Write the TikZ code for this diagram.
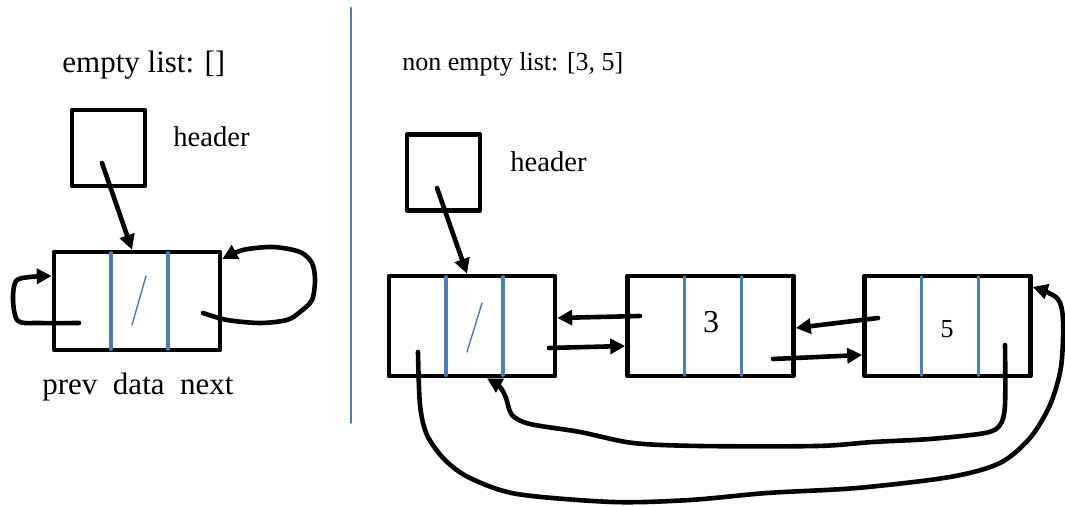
\documentclass[tikz,border=0pt]{standalone}
\usepackage{fontspec}
\setmainfont{Liberation Serif}
\usetikzlibrary{arrows.meta}
\definecolor{divblue}{HTML}{4A7EBB}

\begin{document}
\begin{tikzpicture}[x=0.5pt,y=-0.5pt, line join=round, line cap=round, >={Triangle[length=7.5pt,width=7.5pt]},
	cell/.style={draw,line width=2.3pt,minimum width=83pt,minimum height=50pt,inner sep=0pt},
	hbox/.style={draw,line width=2.3pt,minimum width=36.5pt,minimum height=38pt,inner sep=0pt},
	link/.style={->,line width=2.3pt},
	lbl/.style={anchor=base west,inner sep=0pt},
	bar/.style={divblue,line width=1.6pt},
	slash/.style={divblue,line width=0.7pt}]
	\useasboundingbox (0,0) rectangle (1065,506);
	
	\draw[divblue,line width=1pt] (351,8)--(351,423);
	
	% empty list
	\node[lbl,font=\fontsize{15.5}{18}\selectfont] (t0) at (62,73) {empty list: []};
	\node[hbox] (h0) at (108.5,148) {};
	\node[lbl,font=\fontsize{14.3}{16}\selectfont] (l0) at (173,147) {header};
	\node[cell,minimum height=49pt] (e0) at (137,301) {};
	\node[lbl,font=\fontsize{15.5}{18}\selectfont] (f0) at (42,395) {prev\enspace data\enspace next};
	
	% non empty list
	\node[lbl,font=\fontsize{13}{15}\selectfont] (t1) at (402,71) {non empty list: [3, 5]};
	\node[hbox] (h1) at (443.5,172.5) {};
	\node[lbl,font=\fontsize{14.3}{16}\selectfont] (l1) at (510,172) {header};
	\node[cell] (n1) at (472,326) {};
	\node[cell] (n2) at (710.5,326) {};
	\node[cell] (n3) at (947.5,326) {};
	\node[inner sep=0pt,font=\fontsize{16}{18}\selectfont] (v2) at (711,322) {3};
	\node[inner sep=0pt,font=\fontsize{13}{15}\selectfont] (v3) at (947,329) {5};
	
	\foreach \c in {e0,n1,n2,n3}{
		\draw[bar] ([xshift=-13pt,yshift=-1.5pt]\c.north)--([xshift=-13pt,yshift=1.5pt]\c.south);
		\draw[bar] ([xshift=15.5pt,yshift=-1.5pt]\c.north)--([xshift=15.5pt,yshift=1.5pt]\c.south);}
	\draw[slash] ([shift={(-5,24)}]e0.center)--([shift={(9,-25)}]e0.center);
	\draw[slash] ([shift={(-5,26)}]n1.center)--([shift={(10,-23)}]n1.center);
	
	% pointers, empty list
	\coordinate (h0p) at (102,163);
	\coordinate (e0p) at (79,323);
	\coordinate (e0n) at (203,313);
	\draw[link] (h0p)--([xshift=-2.5pt]e0.north);
	\draw[link] plot[smooth] coordinates {(e0p) (40,323) (18,321) (13,300) (16,281) (30,277) ([yshift=12.5pt]e0.west)};
	\draw[link] plot[smooth] coordinates {(e0n) (227,320) (260,323) (287,320) (300,312) (312,300) (315,280) (312,263) (300,252) (273,247) (243,250) ([yshift=21pt]e0.east)};
	
	% pointers, non empty list
	\coordinate (h1p) at (437,188);
	\coordinate (n1p) at (418,352);
	\coordinate (n1n) at (549,348);
	\coordinate (n2p) at (640,316);
	\coordinate (n2n) at (773,359);
	\coordinate (n3p) at (878,318);
	\coordinate (n3n) at (1005,345);
	\draw[link] (h1p)--([xshift=-2.5pt]n1.north);
	\draw[link] (n2p)--([yshift=4pt]n1.east);
	\draw[link] (n1n)--([yshift=-10pt]n2.west);
	\draw[link] (n3p)--([yshift=-1pt]n2.east);
	\draw[link] (n2n)--([yshift=-14.5pt]n3.west);
	\draw[link] plot[smooth] coordinates {(n3n) (1005,405) (1000,425) (985,433) (930,439) (873,442) (817,446) (700,446) (633,443) (580,432) (530,424) (512,415) (506,398) (500,387) ([xshift=7.5pt]n1.south)};
	\draw[link] plot[smooth] coordinates {(n1p) (420,405) (427,435) (445,460) (470,478) (517,494) (613,502) (690,500) (767,493) (857,488) (950,477) (1000,463) (1030,438) (1050,405) (1061,367) (1063,320) (1057,298) ([yshift=19.5pt]n3.east)};
\end{tikzpicture}
\end{document}
